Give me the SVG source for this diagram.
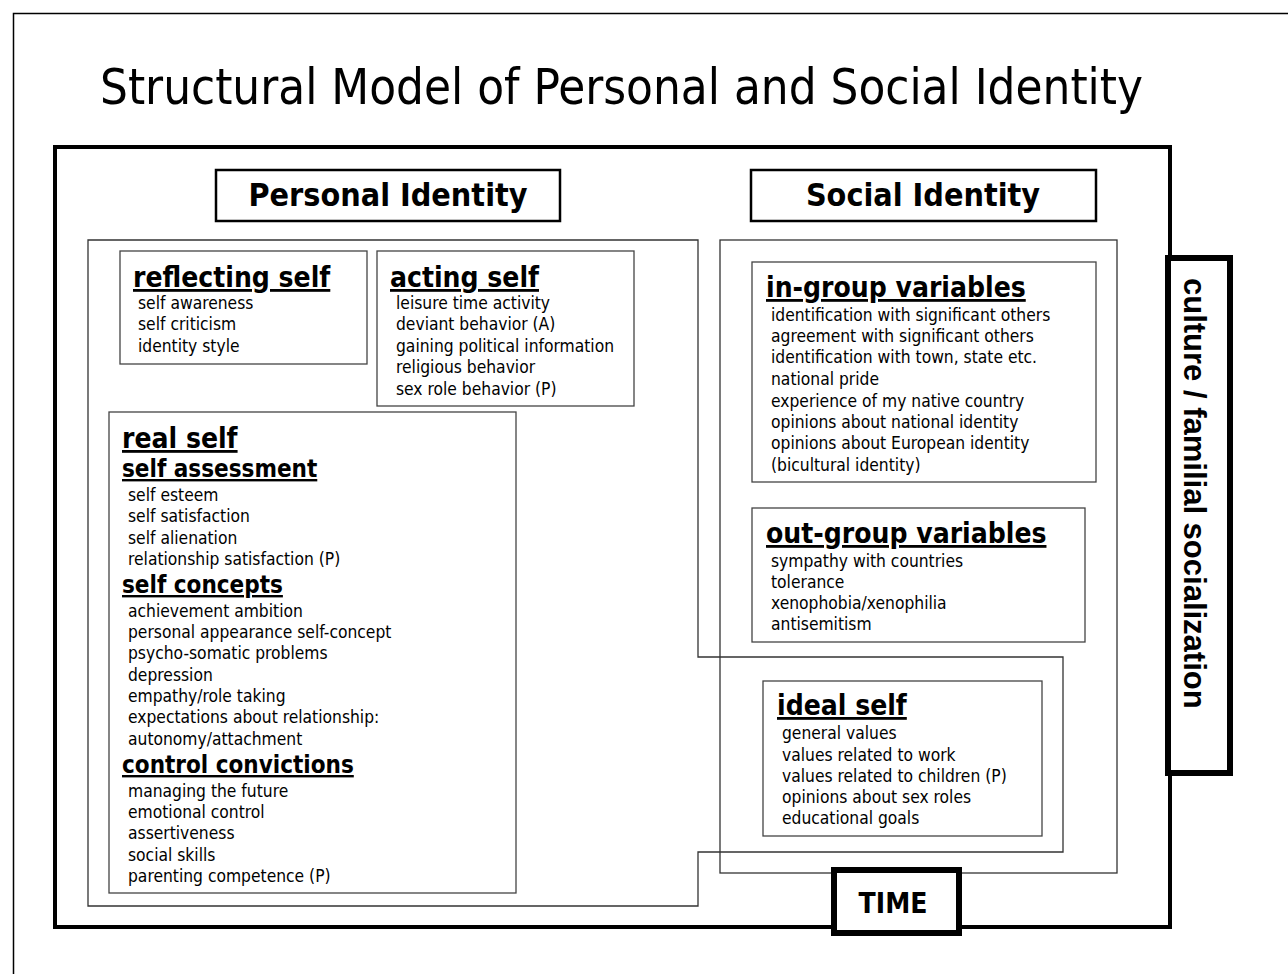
<svg xmlns="http://www.w3.org/2000/svg" width="1288" height="974" viewBox="0 0 1288 974">
  <style>
    .page { fill: none; stroke: #000; stroke-width: 1.5; }
    .frame { fill: none; stroke: #000; stroke-width: 4; }
    .zone { fill: none; stroke: #333; stroke-width: 1.3; }
    .box { fill: #fff; stroke: #444; stroke-width: 1.3; }
    .tbox { fill: #fff; stroke: #000; stroke-width: 2.5; }
    .heavy { fill: #fff; stroke: #000; stroke-width: 6; }
    text { font-family: "DejaVu Sans Condensed", "DejaVu Sans", sans-serif; fill: #000; }
    .title { font-size: 50px; }
    .tlabel { font-size: 32px; font-weight: bold; text-anchor: middle; }
    .hd { font-size: 28px; font-weight: bold; text-decoration: underline; }
    .sub { font-size: 24px; font-weight: bold; text-decoration: underline; }
    .it { font-size: 17.3px; }
    .side { font-family: "Liberation Sans", Arial, sans-serif; font-size: 31px; font-weight: bold; }
  </style>

  <!-- page edge -->
  <path class="page" d="M13.5,974 V13.5 H1288"/>

  <text class="title" x="100" y="104" textLength="1043" lengthAdjust="spacingAndGlyphs">Structural Model of Personal and Social Identity</text>

  <!-- outer frame and the two regions -->
  <g id="connectors">
    <rect class="frame" x="55" y="147" width="1115" height="780"/>
    <path class="zone" d="M88,240 H698 V657 H1063 V852 H698 V906 H88 Z"/>
    <rect class="zone" x="720" y="240" width="397" height="633"/>
  </g>

  <g id="personal-identity">
    <rect class="tbox" x="216" y="170" width="344" height="51"/>
    <text class="tlabel" x="388" y="206">Personal Identity</text>
  </g>

  <g id="social-identity">
    <rect class="tbox" x="751" y="170" width="345" height="51"/>
    <text class="tlabel" x="923" y="206">Social Identity</text>
  </g>

  <g id="reflecting-self">
    <rect class="box" x="120" y="251" width="247" height="113"/>
    <text class="hd" x="133" y="287">reflecting self</text>
    <text class="it">
      <tspan x="138" y="309">self awareness</tspan>
      <tspan x="138" y="330">self criticism</tspan>
      <tspan x="138" y="352">identity style</tspan>
    </text>
  </g>

  <g id="acting-self">
    <rect class="box" x="377" y="251" width="257" height="155"/>
    <text class="hd" x="390" y="287">acting self</text>
    <text class="it">
      <tspan x="396" y="309">leisure time activity</tspan>
      <tspan x="396" y="330">deviant behavior (A)</tspan>
      <tspan x="396" y="352">gaining political information</tspan>
      <tspan x="396" y="373">religious behavior</tspan>
      <tspan x="396" y="395">sex role behavior (P)</tspan>
    </text>
  </g>

  <g id="real-self">
    <rect class="box" x="109" y="412" width="407" height="481"/>
    <text class="hd" x="122" y="448">real self</text>
    <text class="sub" x="122" y="477">self assessment</text>
    <text class="it">
      <tspan x="128" y="501">self esteem</tspan>
      <tspan x="128" y="522">self satisfaction</tspan>
      <tspan x="128" y="544">self alienation</tspan>
      <tspan x="128" y="565">relationship satisfaction (P)</tspan>
    </text>
    <text class="sub" x="122" y="593">self concepts</text>
    <text class="it">
      <tspan x="128" y="617">achievement ambition</tspan>
      <tspan x="128" y="638">personal appearance self-concept</tspan>
      <tspan x="128" y="659">psycho-somatic problems</tspan>
      <tspan x="128" y="681">depression</tspan>
      <tspan x="128" y="702">empathy/role taking</tspan>
      <tspan x="128" y="723">expectations about relationship:</tspan>
      <tspan x="128" y="745">autonomy/attachment</tspan>
    </text>
    <text class="sub" x="122" y="773">control convictions</text>
    <text class="it">
      <tspan x="128" y="797">managing the future</tspan>
      <tspan x="128" y="818">emotional control</tspan>
      <tspan x="128" y="839">assertiveness</tspan>
      <tspan x="128" y="861">social skills</tspan>
      <tspan x="128" y="882">parenting competence (P)</tspan>
    </text>
  </g>

  <g id="in-group-variables">
    <rect class="box" x="752" y="262" width="344" height="220"/>
    <text class="hd" x="766" y="297">in-group variables</text>
    <text class="it">
      <tspan x="771" y="321">identification with significant others</tspan>
      <tspan x="771" y="342">agreement with significant others</tspan>
      <tspan x="771" y="363">identification with town, state etc.</tspan>
      <tspan x="771" y="385">national pride</tspan>
      <tspan x="771" y="407">experience of my native country</tspan>
      <tspan x="771" y="428">opinions about national identity</tspan>
      <tspan x="771" y="449">opinions about European identity</tspan>
      <tspan x="771" y="471">(bicultural identity)</tspan>
    </text>
  </g>

  <g id="out-group-variables">
    <rect class="box" x="752" y="508" width="333" height="134"/>
    <text class="hd" x="766" y="543">out-group variables</text>
    <text class="it">
      <tspan x="771" y="567">sympathy with countries</tspan>
      <tspan x="771" y="588">tolerance</tspan>
      <tspan x="771" y="609">xenophobia/xenophilia</tspan>
      <tspan x="771" y="630">antisemitism</tspan>
    </text>
  </g>

  <g id="ideal-self">
    <rect class="box" x="763" y="681" width="279" height="155"/>
    <text class="hd" x="777" y="715">ideal self</text>
    <text class="it">
      <tspan x="782" y="739">general values</tspan>
      <tspan x="782" y="761">values related to work</tspan>
      <tspan x="782" y="782">values related to children (P)</tspan>
      <tspan x="782" y="803">opinions about sex roles</tspan>
      <tspan x="782" y="824">educational goals</tspan>
    </text>
  </g>

  <g id="culture-familial-socialization">
    <rect class="heavy" x="1168" y="258" width="62" height="515"/>
    <text class="side" transform="translate(1184,278) rotate(90)">culture / familial socialization</text>
  </g>

  <g id="time">
    <rect class="heavy" x="834" y="870" width="125" height="63"/>
    <text class="tlabel" style="font-size:28px" x="893" y="913">TIME</text>
  </g>
</svg>
